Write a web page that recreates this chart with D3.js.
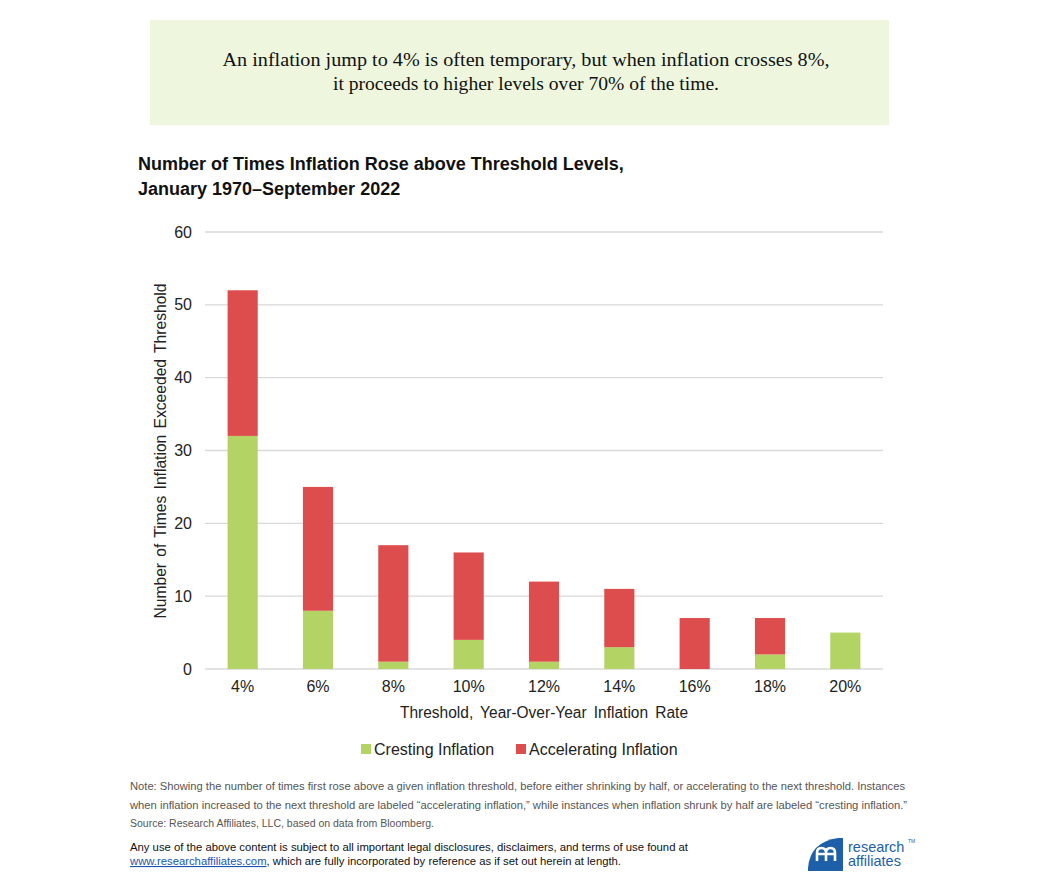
<!DOCTYPE html>
<html>
<head>
<meta charset="utf-8">
<script src="https://cdn.jsdelivr.net/npm/d3@7"></script>
<style>
  body { margin: 0; background: #fff; }
  svg text { font-family: Arial, "Liberation Sans", sans-serif; }
</style>
</head>
<body>
<svg id="chart" width="1040" height="880"></svg>
<script>
// thresholds and counts
var thresholds = ["4%", "6%", "8%", "10%", "12%", "14%", "16%", "18%", "20%"];
var cresting = [32, 8, 1, 4, 1, 3, 0, 2, 5];
var accelerating = [20, 17, 16, 12, 11, 8, 7, 5, 0];
var yTicks = [0, 10, 20, 30, 40, 50, 60];
var seriesNames = ["Cresting Inflation", "Accelerating Inflation"];
var seriesColors = ["#b3d465", "#de4d4d"];

var svg = d3.select("#chart");

// callout banner
svg.append("rect")
    .attr("x", 150).attr("y", 20).attr("width", 739).attr("height", 105)
    .attr("fill", "#eef7dd");
var banner = ["An inflation jump to 4% is often temporary, but when inflation crosses 8%,",
              "it proceeds to higher levels over 70% of the time."];
var bannerLen = [607, 386];
banner.forEach(function(t, i) {
    svg.append("text")
        .attr("x", 526).attr("y", 66 + i * 24)
        .attr("text-anchor", "middle")
        .attr("textLength", bannerLen[i])
        .attr("lengthAdjust", "spacingAndGlyphs")
        .style("font-family", "'Liberation Serif', 'DejaVu Serif', serif")
        .style("font-size", "19px")
        .attr("fill", "#111")
        .text(t);
});

// chart title
svg.append("text").attr("x", 138).attr("y", 170)
    .style("font-size", "18px").style("font-weight", "bold").attr("fill", "#111")
    .text("Number of Times Inflation Rose above Threshold Levels,");
svg.append("text").attr("x", 138).attr("y", 195)
    .style("font-size", "18px").style("font-weight", "bold").attr("fill", "#111")
    .text("January 1970\u2013September 2022");

var x = d3.scaleBand().domain(thresholds).range([205, 883]).paddingInner(0.6).paddingOuter(0.3);
var y = d3.scaleLinear().domain([0, 60]).range([669, 232]);

// gridlines
svg.append("g").selectAll("line").data(yTicks).enter().append("line")
    .attr("x1", 205).attr("x2", 883)
    .attr("y1", function(d) { return y(d); })
    .attr("y2", function(d) { return y(d); })
    .attr("stroke", "#d9d9d9").attr("stroke-width", 1.3);

// y axis labels
var yAxis = d3.axisLeft(y).tickValues(yTicks).tickSize(0).tickPadding(0);
var gy = svg.append("g").attr("transform", "translate(192,0)").call(yAxis);
gy.select(".domain").remove();
gy.selectAll("text").style("font-size", "16px").attr("fill", "#222")
    .style("font-family", "Arial, 'Liberation Sans', sans-serif");

// stacked bars
var rows = thresholds.map(function(t, i) {
    return { key: t, cresting: cresting[i], accelerating: accelerating[i] };
});
var stack = d3.stack().keys(["cresting", "accelerating"])(rows);
svg.append("g").selectAll("g").data(stack).enter().append("g")
    .attr("fill", function(d, i) { return seriesColors[i]; })
    .selectAll("rect").data(function(d) { return d; }).enter().append("rect")
    .attr("x", function(d) { return x(d.data.key); })
    .attr("width", x.bandwidth())
    .attr("y", function(d) { return y(d[1]); })
    .attr("height", function(d) { return y(d[0]) - y(d[1]); });

// x axis labels
var xAxis = d3.axisBottom(x).tickSize(0).tickPadding(0);
var gx = svg.append("g").attr("transform", "translate(0,681)").call(xAxis);
gx.select(".domain").remove();
gx.selectAll("text").style("font-size", "16px").attr("fill", "#222")
    .style("font-family", "Arial, 'Liberation Sans', sans-serif");

// axis titles
svg.append("text").attr("x", 544).attr("y", 718).attr("text-anchor", "middle")
    .attr("textLength", 288).attr("lengthAdjust", "spacingAndGlyphs")
    .style("font-size", "16px").attr("fill", "#222").attr("word-spacing", "3px")
    .text("Threshold, Year-Over-Year Inflation Rate");
svg.append("text").attr("transform", "translate(166,451) rotate(-90)")
    .attr("text-anchor", "middle")
    .attr("textLength", 335).attr("lengthAdjust", "spacingAndGlyphs")
    .style("font-size", "16px").attr("fill", "#222").attr("word-spacing", "2px")
    .text("Number of Times Inflation Exceeded Threshold");

// legend
var legX = [361, 516];
seriesNames.forEach(function(n, i) {
    svg.append("rect").attr("x", legX[i]).attr("y", 744).attr("width", 10).attr("height", 10)
        .attr("fill", seriesColors[i]);
    svg.append("text").attr("x", legX[i] + 13).attr("y", 755)
        .style("font-size", "16px").attr("fill", "#222").text(n);
});

// notes
var notes = [
    "Note: Showing the number of times first rose above a given inflation threshold, before either shrinking by half, or accelerating to the next threshold. Instances",
    "when inflation increased to the next threshold are labeled \u201caccelerating inflation,\u201d while instances when inflation shrunk by half are labeled \u201ccresting inflation.\u201d",
    "Source: Research Affiliates, LLC, based on data from Bloomberg."
];
var noteLen = [775, 777, 304];
notes.forEach(function(t, i) {
    svg.append("text").attr("x", 130).attr("y", 790 + i * 18.5)
        .attr("textLength", noteLen[i]).attr("lengthAdjust", "spacingAndGlyphs")
        .style("font-family", "'Liberation Sans Narrow', 'Liberation Sans', sans-serif")
        .style("font-size", "11px").attr("fill", "#555").text(t);
});

svg.append("text").attr("x", 130).attr("y", 851)
    .attr("textLength", 558).attr("lengthAdjust", "spacingAndGlyphs")
    .style("font-family", "'Liberation Sans Narrow', 'Liberation Sans', sans-serif")
    .style("font-size", "11px").attr("fill", "#111")
    .text("Any use of the above content is subject to all important legal disclosures, disclaimers, and terms of use found at");
var disc2 = svg.append("text").attr("x", 130).attr("y", 865)
    .attr("textLength", 491).attr("lengthAdjust", "spacingAndGlyphs")
    .style("font-family", "'Liberation Sans Narrow', 'Liberation Sans', sans-serif")
    .style("font-size", "11px").attr("fill", "#111");
disc2.append("tspan").attr("fill", "#1a56b0").attr("text-decoration", "underline")
    .text("www.researchaffiliates.com");
disc2.append("tspan").text(", which are fully incorporated by reference as if set out herein at length.");

// logo
var logo = svg.append("g").attr("transform", "translate(808,838)");
logo.append("path")
    .attr("d", "M0,33 L0,30 Q2,4 30,0 L35,0 L35,33 Z")
    .attr("fill", "#1d5fa8");
// white double-arch mark
logo.append("path")
    .attr("d", "M9,23 L9,15 Q9,10 13.5,10 Q18,10 18,15 L18,23 M18,15 Q18,10 22.5,10 Q27,10 27,15 L27,23 M9,16 L27,16")
    .attr("fill", "none").attr("stroke", "#fff").attr("stroke-width", 2.6);
logo.append("text").attr("x", 40).attr("y", 14)
    .style("font-size", "14.5px").attr("fill", "#1d5fa8").text("research");
logo.append("text").attr("x", 40).attr("y", 28)
    .style("font-size", "14.5px").attr("fill", "#1d5fa8").text("affiliates");
logo.append("text").attr("x", 100).attr("y", 5)
    .style("font-size", "5px").attr("fill", "#1d5fa8").text("TM");
</script>
</body>
</html>
